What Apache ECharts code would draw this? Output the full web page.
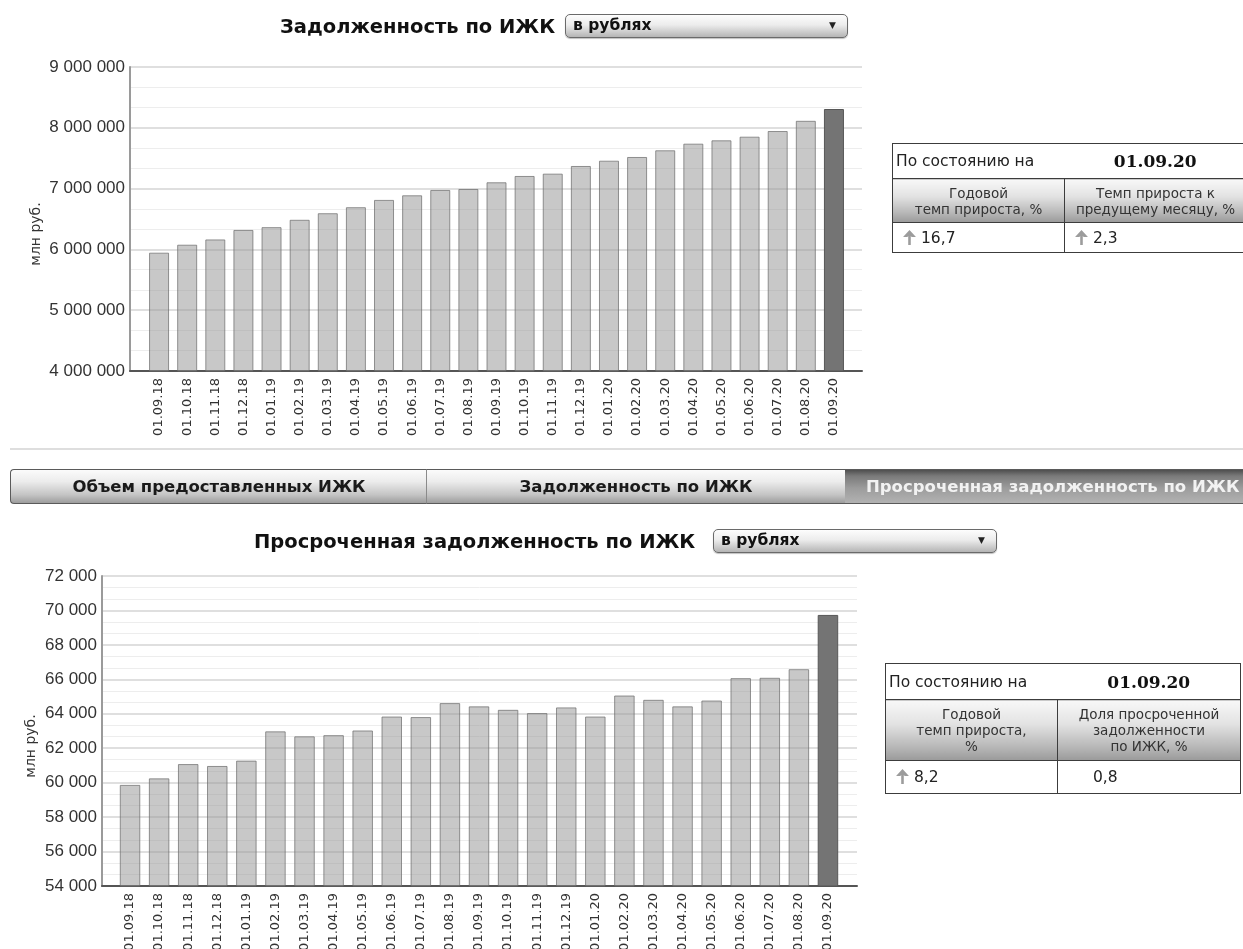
<!DOCTYPE html>
<html lang="ru">
<head>
<meta charset="utf-8">
<title>Задолженность по ИЖК</title>
<script src="https://cdn.jsdelivr.net/npm/echarts@6/dist/echarts.min.js"></script>
<style>
  html, body { margin: 0; padding: 0; background: #fff; }
  #page { position: relative; width: 1243px; height: 949px; overflow: hidden;
          font-family: "DejaVu Sans", Verdana, sans-serif; color: #111; }
  #chart { position: absolute; left: 0; top: 0; width: 1243px; height: 949px; }
  .title { position: absolute; font-weight: bold; font-size: 19.5px; line-height: 22px;
           white-space: nowrap; color: #111; }
  .select { position: absolute; box-sizing: border-box; height: 24px;
            border: 1px solid #6a6a6a; border-radius: 5px;
            background: linear-gradient(#fdfdfd 0%, #ececec 45%, #c9c9c9 80%, #b5b5b5 100%);
            box-shadow: 0 1px 1px rgba(0,0,0,0.25);
            font-weight: bold; font-size: 15.5px; line-height: 21px; padding-left: 7px; color: #111; }
  .select .caret { position: absolute; right: 11px; top: 0; font-size: 9px; color: #222; }
  .sep { position: absolute; left: 10px; top: 448px; width: 1233px; height: 2px; background: #dedede; }
  .tab { position: absolute; top: 469px; height: 35px; box-sizing: border-box;
         border-top: 1px solid #5a5a5a; border-bottom: 1px solid #5a5a5a;
         background: linear-gradient(#fbfbfb 0%, #ececec 35%, #c4c4c4 75%, #9d9d9d 100%);
         font-weight: bold; font-size: 16.5px; line-height: 33px; text-align: center;
         white-space: nowrap; color: #1a1a1a; overflow: hidden; }
  .tab.first { border-left: 1px solid #5a5a5a; border-radius: 4px 0 0 4px; }
  .tab.mid { border-left: 1px solid #8a8a8a; border-right: 1px solid #5a5a5a; }
  .tab.on { background: linear-gradient(#4f4f4f 0%, #7a7a7a 18%, #9c9c9c 55%, #b2b2b2 100%);
            color: #f2f2f2; text-align: left; padding-left: 21px; }
  table.stat { position: absolute; border-collapse: collapse; table-layout: fixed;
               font-family: "DejaVu Sans", Verdana, sans-serif; color: #222; }
  table.stat td { border: 1.5px solid #3c3c3c; padding: 0; }
  table.stat td.k { font-size: 15.5px; padding-left: 3px; border-right: none; }
  table.stat td.d { text-align: center; font-family: "DejaVu Serif", Georgia, serif;
                    font-weight: bold; font-size: 17px; border-left: none; color: #111; }
  table.stat tr.hd td { text-align: center; font-size: 13.5px; line-height: 16px; color: #333;
                        background: linear-gradient(#f8f8f8 0%, #e2e2e2 40%, #b4b4b4 80%, #9a9a9a 100%); }
  table.stat tr.vl td { font-size: 15.5px; padding-left: 10px; white-space: nowrap; }
  .up { display: inline-block; width: 13px; height: 15px; vertical-align: -2px; margin-right: 5px; }
</style>
</head>
<body>
<div id="page">
  <div id="chart"></div>

  <div class="title" id="t1" style="left:280px; top:16px;">Задолженность по ИЖК</div>
  <div class="select" style="left:565px; top:14px; width:283px;">в рублях<span class="caret">&#9660;</span></div>

  <table class="stat" style="left:892px; top:143px; width:355px;">
    <colgroup><col style="width:172px"><col></colgroup>
    <tr style="height:35px"><td class="k">По состоянию на</td><td class="d" id="d1"></td></tr>
    <tr class="hd" style="height:44px"><td>Годовой<br>темп прироста, %</td><td>Темп прироста к<br>предущему месяцу, %</td></tr>
    <tr class="vl" style="height:30px"><td id="v11"></td><td id="v12"></td></tr>
  </table>

  <div class="sep"></div>

  <div class="tab first" style="left:10px; width:417px;">Объем предоставленных ИЖК</div>
  <div class="tab mid" style="left:426px; width:420px;">Задолженность по ИЖК</div>
  <div class="tab on" style="left:845px; width:400px;">Просроченная задолженность по ИЖК</div>

  <div class="title" id="t2" style="left:254px; top:531px;">Просроченная задолженность по ИЖК</div>
  <div class="select" style="left:713px; top:529px; width:284px;">в рублях<span class="caret">&#9660;</span></div>

  <table class="stat" style="left:885px; top:663px; width:356px;">
    <colgroup><col style="width:172px"><col></colgroup>
    <tr style="height:36px"><td class="k">По состоянию на</td><td class="d" id="d2"></td></tr>
    <tr class="hd" style="height:61px"><td>Годовой<br>темп прироста,<br>%</td><td>Доля просроченной<br>задолженности<br>по ИЖК, %</td></tr>
    <tr class="vl" style="height:33px"><td id="v21"></td><td id="v22" style="padding-left:35px"></td></tr>
  </table>
</div>

<script>
// Monthly reporting dates
const categories = [
  '01.09.18', '01.10.18', '01.11.18', '01.12.18', '01.01.19', '01.02.19', '01.03.19',
  '01.04.19', '01.05.19', '01.06.19', '01.07.19', '01.08.19', '01.09.19', '01.10.19',
  '01.11.19', '01.12.19', '01.01.20', '01.02.20', '01.03.20', '01.04.20', '01.05.20',
  '01.06.20', '01.07.20', '01.08.20', '01.09.20'
];

// Housing mortgage debt, mln rub.
const debtValues = [
  5946000, 6077000, 6164000, 6320000, 6366000, 6487000, 6595000,
  6694000, 6814000, 6890000, 6978000, 6994000, 7104000, 7208000,
  7246000, 7372000, 7459000, 7520000, 7630000, 7739000, 7794000,
  7854000, 7947000, 8115000, 8309000
];

// Overdue housing mortgage debt, mln rub.
const overdueValues = [
  59870, 60250, 61080, 60970, 61280, 62980, 62690,
  62760, 63030, 63840, 63810, 64620, 64430, 64230,
  64040, 64370, 63840, 65060, 64810, 64430, 64770,
  66070, 66090, 66590, 69740
];

// Value-axis ranges
const debtAxis = { min: 4000000, max: 9000000, interval: 1000000 };
const overdueAxis = { min: 54000, max: 72000, interval: 2000 };

// Summary figures shown in the side tables
const reportDate = '01.09.20';
const debtStats = { yearGrowth: '16,7', monthGrowth: '2,3' };
const overdueStats = { yearGrowth: '8,2', overdueShare: '0,8' };

const arrowSvg = '<svg class="up" viewBox="0 0 12 14"><path d="M6 0 L12 6.5 L8 6.5 L7.2 5.6 L7.2 14 L4.8 14 L4.8 5.6 L4 6.5 L0 6.5 Z" fill="#9c9c9c"/></svg>';
document.getElementById('d1').textContent = reportDate;
document.getElementById('d2').textContent = reportDate;
document.getElementById('v11').innerHTML = arrowSvg + debtStats.yearGrowth;
document.getElementById('v12').innerHTML = arrowSvg + debtStats.monthGrowth;
document.getElementById('v21').innerHTML = arrowSvg + overdueStats.yearGrowth;
document.getElementById('v22').textContent = overdueStats.overdueShare;

const thousands = v => String(v).replace(/\B(?=(\d{3})+(?!\d))/g, ' ');

// Light bars with the latest month highlighted in dark grey
function barData(values) {
  return values.map((v, i) => i === values.length - 1
    ? { value: v, itemStyle: { color: '#747474', borderColor: '#575757', opacity: 1 } }
    : v);
}

const frameX = gridIndex => ({
  gridIndex, type: 'category', data: [''],
  axisLine: { show: true, lineStyle: { color: '#555', width: 2 } },
  axisTick: { show: false }, axisLabel: { show: false }, splitLine: { show: false }
});
const frameY = (gridIndex, range) => ({
  gridIndex, type: 'value', min: range.min, max: range.max, interval: range.interval,
  axisLine: { show: true, lineStyle: { color: '#9a9a9a', width: 2 } },
  axisTick: { show: false },
  axisLabel: { formatter: thousands, fontFamily: 'Liberation Sans', fontSize: 17, color: '#333', margin: 5 },
  splitLine: { show: true, lineStyle: { color: '#d4d4d4', width: 1.5 } },
  minorTick: { show: false, splitNumber: 3 },
  minorSplitLine: { show: true, lineStyle: { color: '#ededed', width: 1 } }
});
const barX = gridIndex => ({
  gridIndex, type: 'category', data: categories,
  axisLine: { show: false }, axisTick: { show: false },
  axisLabel: { interval: 0, rotate: 90, fontFamily: 'DejaVu Sans', fontSize: 13, color: '#333', margin: 7 }
});
const barY = (gridIndex, range) => ({
  gridIndex, type: 'value', min: range.min, max: range.max, interval: range.interval, show: false,
  splitLine: { show: false }
});
const barSeries = (axisIndex, values, width) => ({
  type: 'bar', xAxisIndex: axisIndex, yAxisIndex: axisIndex, data: barData(values),
  barWidth: width, silent: true,
  itemStyle: { color: 'rgba(150,150,150,0.52)', borderColor: 'rgba(105,105,105,0.7)', borderWidth: 1 }
});

const gridAt = (left, top, width, height) =>
  ({ left, top, width, height, containLabel: false, outerBoundsMode: 'none' });

const chart = echarts.init(document.getElementById('chart'), null, { renderer: 'canvas' });
chart.setOption({
  animation: false,
  grid: [
    gridAt(130, 67, 732, 304),
    gridAt(145, 67, 703, 304),
    gridAt(102, 576, 755, 310),
    gridAt(115.5, 576, 727, 310)
  ],
  xAxis: [frameX(0), barX(1), frameX(2), barX(3)],
  yAxis: [frameY(0, debtAxis), barY(1, debtAxis), frameY(2, overdueAxis), barY(3, overdueAxis)],
  series: [
    barSeries(1, debtValues, 20),
    barSeries(3, overdueValues, 20.5)
  ],
  graphic: [
    { type: 'text', x: 36, y: 234, rotation: Math.PI / 2,
      style: { text: 'млн руб.', font: '14px "DejaVu Sans"', fill: '#333', textAlign: 'center', textVerticalAlign: 'middle' } },
    { type: 'text', x: 31, y: 746, rotation: Math.PI / 2,
      style: { text: 'млн руб.', font: '14px "DejaVu Sans"', fill: '#333', textAlign: 'center', textVerticalAlign: 'middle' } }
  ]
});
</script>
</body>
</html>
